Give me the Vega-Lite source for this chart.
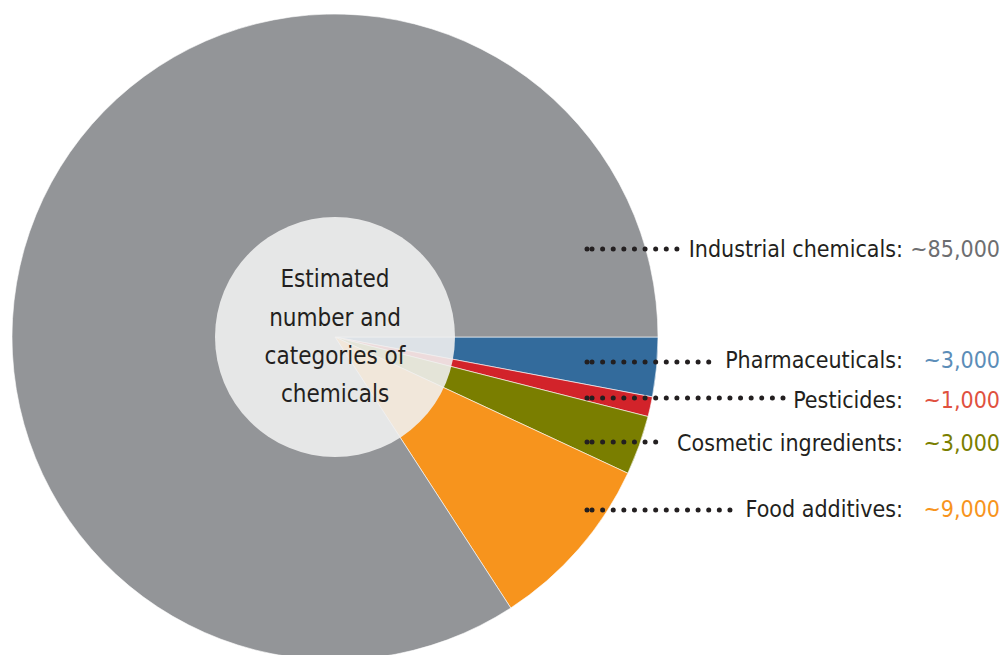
{
  "$schema": "https://vega.github.io/schema/vega-lite/v6.json",
  "width": 1005,
  "height": 655,
  "autosize": {"type": "none"},
  "padding": 0,
  "background": "white",
  "config": {"view": {"stroke": null}},
  "datasets": {
    "cats": [
      {"category": "Pharmaceuticals", "value": 3000, "order": 1, "label": "Pharmaceuticals:", "valtext": "~3,000", "labelY": 368, "leaderY": 362, "leaderStart": 587, "leaderEnd": 716},
      {"category": "Pesticides", "value": 1000, "order": 2, "label": "Pesticides:", "valtext": "~1,000", "labelY": 408, "leaderY": 398, "leaderStart": 587, "leaderEnd": 783},
      {"category": "Cosmetic ingredients", "value": 3000, "order": 3, "label": "Cosmetic ingredients:", "valtext": "~3,000", "labelY": 451, "leaderY": 442, "leaderStart": 587, "leaderEnd": 666},
      {"category": "Food additives", "value": 9000, "order": 4, "label": "Food additives:", "valtext": "~9,000", "labelY": 517, "leaderY": 510, "leaderStart": 587, "leaderEnd": 735},
      {"category": "Industrial chemicals", "value": 85000, "order": 5, "label": "Industrial chemicals:", "valtext": "~85,000", "labelY": 257, "leaderY": 249, "leaderStart": 587, "leaderEnd": 678}
    ],
    "centerText": [
      {"line": "Estimated", "lineY": 287},
      {"line": "number and", "lineY": 326},
      {"line": "categories of", "lineY": 364},
      {"line": "chemicals", "lineY": 402}
    ],
    "hub": [{"cx": 335, "cy": 337}]
  },
  "layer": [
    {
      "data": {"name": "cats"},
      "mark": {"type": "arc", "outerRadius": 323, "stroke": "white", "strokeWidth": 0.6},
      "encoding": {
        "x": {"datum": 335, "type": "quantitative", "scale": {"domain": [0, 1005], "range": [0, 1005], "nice": false, "zero": false}, "axis": null},
        "y": {"datum": 337, "type": "quantitative", "scale": {"domain": [0, 655], "range": [0, 655], "nice": false, "zero": false}, "axis": null},
        "theta": {"field": "value", "type": "quantitative", "stack": true, "scale": {"range": [1.5707963, 7.8539816]}},
        "order": {"field": "order", "type": "quantitative"},
        "color": {
          "field": "category", "type": "nominal", "legend": null,
          "scale": {
            "domain": ["Pharmaceuticals", "Pesticides", "Cosmetic ingredients", "Food additives", "Industrial chemicals"],
            "range": ["#336b9c", "#d2232a", "#7a7e00", "#f7941d", "#939598"]
          }
        }
      }
    },
    {
      "data": {"name": "hub"},
      "mark": {"type": "point", "shape": "circle", "filled": true, "size": 57600, "fill": "#f0f0f0", "opacity": 0.9, "strokeWidth": 0},
      "encoding": {
        "x": {"field": "cx", "type": "quantitative"},
        "y": {"field": "cy", "type": "quantitative"}
      }
    },
    {
      "data": {"name": "centerText"},
      "mark": {"type": "text", "align": "center", "baseline": "alphabetic", "font": "DejaVu Sans Condensed", "fontSize": 24, "fill": "#231f20"},
      "encoding": {
        "x": {"datum": 335, "type": "quantitative"},
        "y": {"field": "lineY", "type": "quantitative"},
        "text": {"field": "line"}
      }
    },
    {
      "data": {"name": "cats"},
      "mark": {"type": "rule", "stroke": "#231f20", "strokeWidth": 5, "strokeCap": "round", "strokeDash": [0.01, 10.6], "strokeDashOffset": 5.6},
      "encoding": {
        "x": {"field": "leaderStart", "type": "quantitative"},
        "x2": {"field": "leaderEnd"},
        "y": {"field": "leaderY", "type": "quantitative"}
      }
    },
    {
      "data": {"name": "cats"},
      "mark": {"type": "point", "shape": "circle", "filled": true, "size": 25, "fill": "#231f20", "opacity": 1, "strokeWidth": 0},
      "encoding": {
        "x": {"field": "leaderStart", "type": "quantitative"},
        "y": {"field": "leaderY", "type": "quantitative"}
      }
    },
    {
      "data": {"name": "cats"},
      "mark": {"type": "text", "align": "right", "baseline": "alphabetic", "font": "DejaVu Sans Condensed", "fontSize": 23, "fill": "#231f20"},
      "encoding": {
        "x": {"datum": 903, "type": "quantitative"},
        "y": {"field": "labelY", "type": "quantitative"},
        "text": {"field": "label"}
      }
    },
    {
      "data": {"name": "cats"},
      "mark": {"type": "text", "align": "right", "baseline": "alphabetic", "font": "DejaVu Sans Condensed", "fontSize": 23},
      "encoding": {
        "x": {"datum": 1000, "type": "quantitative"},
        "y": {"field": "labelY", "type": "quantitative"},
        "text": {"field": "valtext"},
        "color": {
          "field": "category", "type": "nominal", "legend": null,
          "scale": {
            "domain": ["Pharmaceuticals", "Pesticides", "Cosmetic ingredients", "Food additives", "Industrial chemicals"],
            "range": ["#5b8db8", "#e0513f", "#7a7e00", "#f7941d", "#6d6e71"]
          }
        }
      }
    }
  ],
  "resolve": {"scale": {"color": "independent"}}
}
